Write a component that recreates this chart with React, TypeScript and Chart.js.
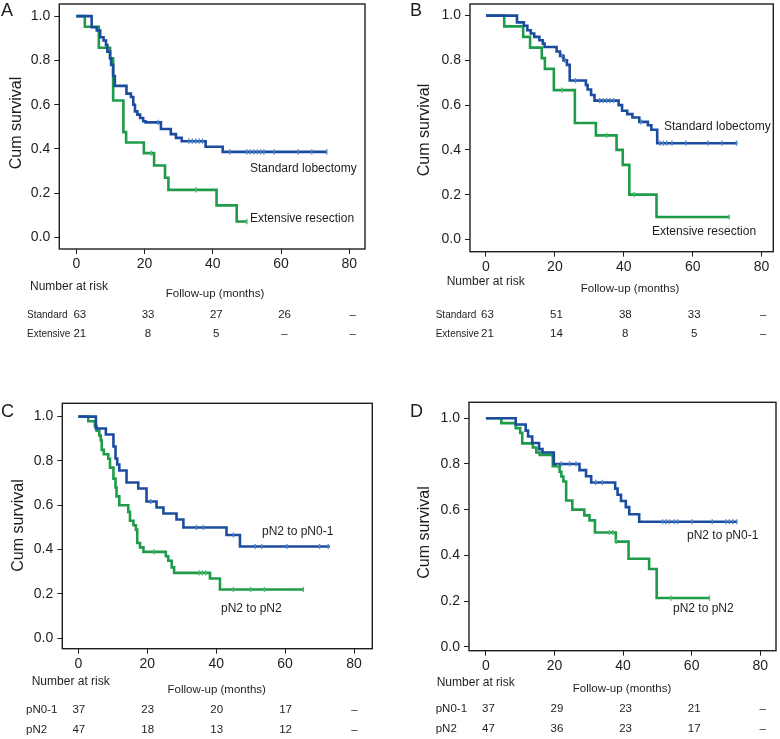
import React, { useEffect, useRef } from 'react';
import { Chart, registerables } from 'chart.js';

Chart.register(...registerables);

// ---------- shared axis data ----------
const xTicks = [0, 20, 40, 60, 80];
const yTicks = [0, 0.2, 0.4, 0.6, 0.8, 1.0];
const riskTimes = [0, 20, 40, 60, 80];

// ---------- Panel A ----------
const aStdTime = [0, 4.5, 6, 7, 8, 8.7, 9.1, 9.9, 10.2, 10.8, 11.3, 14.7, 16, 16.7, 17.2, 17.9, 18.7, 19.6, 20.3, 24.8, 27.7, 29.2, 30.9, 37.9, 42.9, 73.4];
const aStdSurv = [1, 0.95, 0.935, 0.905, 0.89, 0.87, 0.84, 0.81, 0.78, 0.73, 0.685, 0.65, 0.635, 0.6, 0.57, 0.555, 0.54, 0.525, 0.52, 0.49, 0.467, 0.45, 0.435, 0.41, 0.387, 0.387];
const aStdCensor = [24, 33, 34, 35, 36, 37, 45, 50, 51, 52, 53, 54, 55, 58, 65, 69, 73.4];
const aExtTime = [0, 2.5, 6.6, 9.9, 10.8, 13.8, 14.6, 19.8, 22.8, 26, 27, 41.1, 47, 50];
const aExtSurv = [1, 0.952, 0.857, 0.81, 0.619, 0.476, 0.429, 0.381, 0.325, 0.27, 0.215, 0.145, 0.072, 0.072];
const aExtCensor = [22, 35, 50];
const aRiskStandard = ['63', '33', '27', '26', '–'];
const aRiskExtensive = ['21', '8', '5', '–', '–'];

// ---------- Panel B ----------
const bStdTime = [0, 9, 11, 12, 13, 14, 15.5, 16.5, 17, 20.5, 21.5, 22.5, 23.5, 24.3, 29, 29.5, 30.5, 31.5, 38.5, 39.5, 41, 42.5, 44.5, 47, 48, 49.7, 73];
const bStdSurv = [1, 0.97, 0.955, 0.935, 0.92, 0.905, 0.89, 0.875, 0.86, 0.84, 0.82, 0.8, 0.78, 0.71, 0.69, 0.67, 0.645, 0.62, 0.6, 0.575, 0.56, 0.545, 0.525, 0.51, 0.49, 0.43, 0.43];
const bStdCensor = [22, 23, 26, 33, 34, 35, 36, 37, 45, 50.5, 51.5, 52.5, 54, 58, 64.5, 68.5, 72.7];
const bExtTime = [0, 5.3, 10.8, 12.8, 16.2, 17.1, 19.7, 25.8, 31.9, 37.9, 39.7, 41.6, 49.5, 70.6];
const bExtSurv = [1, 0.952, 0.905, 0.857, 0.81, 0.762, 0.667, 0.52, 0.465, 0.4, 0.333, 0.2, 0.1, 0.1];
const bExtCensor = [22, 35, 43, 70.6];
const bRiskStandard = ['63', '51', '38', '33', '–'];
const bRiskExtensive = ['21', '14', '8', '5', '–'];

// ---------- Panel C ----------
const cN01Time = [0, 5.1, 8.0, 10.2, 10.8, 11.3, 11.9, 14.0, 17.4, 19.8, 22.7, 24.7, 28.5, 30.5, 43.0, 46.9, 73.0];
const cN01Surv = [1, 0.946, 0.919, 0.865, 0.811, 0.784, 0.757, 0.703, 0.676, 0.617, 0.59, 0.563, 0.536, 0.5, 0.466, 0.414, 0.414];
const cN01Censor = [21, 34.3, 36.3, 45, 51.3, 53.2, 60.5, 70, 72.5];
const cN2Time = [0, 2.9, 4.8, 5.3, 6.1, 6.5, 6.8, 7.4, 8.7, 9.2, 10.2, 10.8, 11.1, 11.9, 14.5, 15, 16, 16.7, 17.1, 17.9, 18.9, 25.4, 26.1, 27.1, 27.8, 38.2, 41.1, 65.3];
const cN2Surv = [1, 0.979, 0.957, 0.936, 0.915, 0.894, 0.85, 0.83, 0.81, 0.77, 0.72, 0.68, 0.64, 0.6, 0.57, 0.53, 0.51, 0.49, 0.43, 0.41, 0.39, 0.37, 0.35, 0.32, 0.295, 0.27, 0.22, 0.22];
const cN2Censor = [22, 35, 36, 37, 45, 50, 54, 65.3];
const cRiskN01 = ['37', '23', '20', '17', '–'];
const cRiskN2 = ['47', '18', '13', '12', '–'];

// ---------- Panel D ----------
const dN01Time = [0, 8.7, 11.6, 12.3, 13.5, 15.5, 16.5, 19.8, 27.3, 29.2, 30.7, 37.7, 38.4, 39.4, 40.8, 41.8, 44.7, 73.2];
const dN01Surv = [1, 0.973, 0.946, 0.92, 0.892, 0.865, 0.85, 0.8, 0.773, 0.746, 0.719, 0.692, 0.665, 0.638, 0.611, 0.58, 0.547, 0.547];
const dN01Censor = [22, 24.4, 26.3, 32, 34, 51.5, 52.5, 53.5, 55, 56, 60, 66, 70, 71, 72, 73.2];
const dN2Time = [0, 4.5, 8.7, 10, 10.6, 13.7, 14.7, 15.7, 19.5, 21.5, 22, 22.6, 23.4, 25.2, 28.7, 30.2, 31.8, 37.9, 41.6, 47.6, 49.8, 65.2];
const dN2Surv = [1, 0.979, 0.957, 0.936, 0.89, 0.872, 0.85, 0.84, 0.79, 0.766, 0.745, 0.723, 0.64, 0.6, 0.575, 0.553, 0.5, 0.46, 0.385, 0.34, 0.213, 0.213];
const dN2Censor = [21, 36, 37, 38, 54, 65.2];
const dRiskN01 = ['37', '29', '23', '21', '–'];
const dRiskN2 = ['47', '36', '23', '17', '–'];

// ---------- styling ----------
const FONT = '"Liberation Sans", Arial, Helvetica, sans-serif';
const BLUE = '#1c4c9e';
const GREEN = '#1f9b4a';
const BLUE_MARK = '#4f8ad2';
const GREEN_MARK = '#4cbd70';
const INK = '#1e1e1e';
const Y_W = 45;
const X_H = 25;

type Curve = { time: number[]; surv: number[]; censor: number[] };
type Panel = {
  letter: string;
  left: number; top: number; width: number; height: number;
  frame: { l: number; t: number; r: number; b: number };
  xMin: number; xMax: number; yMin: number; yMax: number;
  blue: Curve; green: Curve;
  blueLabel: { text: string; x: number; y: number };
  greenLabel: { text: string; x: number; y: number };
  letterPos: { x: number; y: number };
  cumPos: { x: number; y: number };
  narPos: { x: number; y: number };
  followPos: { x: number; y: number };
  rowLabelX: number; rowLabelSize: number; riskOffset: number;
  rows: { label: string; values: string[]; y: number }[];
};

const panels: Panel[] = [
  {
    letter: 'A', left: 0, top: 0, width: 390, height: 345,
    frame: { l: 59.3, t: 1, r: 365, b: 249 },
    xMin: -4.98, xMax: 84.6, yMin: -0.052, yMax: 1.055,
    blue: { time: aStdTime, surv: aStdSurv, censor: aStdCensor },
    green: { time: aExtTime, surv: aExtSurv, censor: aExtCensor },
    blueLabel: { text: 'Standard lobectomy', x: 250, y: 169 },
    greenLabel: { text: 'Extensive resection', x: 250, y: 219 },
    letterPos: { x: 1, y: 11 }, cumPos: { x: 17, y: 123 },
    narPos: { x: 30, y: 287 }, followPos: { x: 215, y: 294 },
    rowLabelX: 27, rowLabelSize: 10, riskOffset: 3.5,
    rows: [
      { label: 'Standard', values: aRiskStandard, y: 315 },
      { label: 'Extensive', values: aRiskExtensive, y: 334 },
    ],
  },
  {
    letter: 'B', left: 390, top: 0, width: 390, height: 345,
    frame: { l: 80, t: 1, r: 383.3, b: 251.7 },
    xMin: -4.64, xMax: 83.4, yMin: -0.055, yMax: 1.052,
    blue: { time: bStdTime, surv: bStdSurv, censor: bStdCensor },
    green: { time: bExtTime, surv: bExtSurv, censor: bExtCensor },
    blueLabel: { text: 'Standard lobectomy', x: 274, y: 127 },
    greenLabel: { text: 'Extensive resection', x: 262, y: 232 },
    letterPos: { x: 20, y: 11 }, cumPos: { x: 34.5, y: 130 },
    narPos: { x: 56.7, y: 282 }, followPos: { x: 240, y: 289 },
    rowLabelX: 45.7, rowLabelSize: 10, riskOffset: 1.5,
    rows: [
      { label: 'Standard', values: bRiskStandard, y: 315 },
      { label: 'Extensive', values: bRiskExtensive, y: 334 },
    ],
  },
  {
    letter: 'C', left: 0, top: 380, width: 390, height: 359,
    frame: { l: 62.3, t: 23.3, r: 372.3, b: 268.7 },
    xMin: -4.64, xMax: 85.3, yMin: -0.047, yMax: 1.06,
    blue: { time: cN01Time, surv: cN01Surv, censor: cN01Censor },
    green: { time: cN2Time, surv: cN2Surv, censor: cN2Censor },
    blueLabel: { text: 'pN2 to pN0-1', x: 262, y: 152 },
    greenLabel: { text: 'pN2 to pN2', x: 221, y: 229 },
    letterPos: { x: 1, y: 32.5 }, cumPos: { x: 19, y: 145.5 },
    narPos: { x: 31.7, y: 302 }, followPos: { x: 216.7, y: 310 },
    rowLabelX: 26, rowLabelSize: 11.5, riskOffset: 0.5,
    rows: [
      { label: 'pN0-1', values: cRiskN01, y: 330 },
      { label: 'pN2', values: cRiskN2, y: 350 },
    ],
  },
  {
    letter: 'D', left: 390, top: 380, width: 390, height: 359,
    frame: { l: 79, t: 22.3, r: 387.7, b: 270.7 },
    xMin: -4.93, xMax: 84.6, yMin: -0.0175, yMax: 1.07,
    blue: { time: dN01Time, surv: dN01Surv, censor: dN01Censor },
    green: { time: dN2Time, surv: dN2Surv, censor: dN2Censor },
    blueLabel: { text: 'pN2 to pN0-1', x: 297, y: 156 },
    greenLabel: { text: 'pN2 to pN2', x: 283, y: 229 },
    letterPos: { x: 20, y: 32 }, cumPos: { x: 35, y: 152.5 },
    narPos: { x: 46.7, y: 303 }, followPos: { x: 232, y: 309 },
    rowLabelX: 45.7, rowLabelSize: 11.5, riskOffset: 2.5,
    rows: [
      { label: 'pN0-1', values: dRiskN01, y: 329 },
      { label: 'pN2', values: dRiskN2, y: 349 },
    ],
  },
];

function stepPoints(c: Curve) {
  return c.time.map((t, i) => ({ x: t, y: c.surv[i] }));
}

function survAt(c: Curve, t: number) {
  let s = c.surv[0];
  for (let i = 0; i < c.time.length; i++) {
    if (c.time[i] <= t + 1e-9) s = c.surv[i];
  }
  return s;
}

function censorPoints(c: Curve) {
  return c.censor.map((t) => ({ x: t, y: survAt(c, t) }));
}

function drawText(
  ctx: CanvasRenderingContext2D, s: string, x: number, y: number,
  size: number, align: CanvasTextAlign = 'left', rotate = false
) {
  ctx.save();
  ctx.font = `${size}px ${FONT}`;
  ctx.fillStyle = INK;
  ctx.textAlign = align;
  ctx.textBaseline = 'middle';
  if (rotate) {
    ctx.translate(x, y);
    ctx.rotate(-Math.PI / 2);
    ctx.fillText(s, 0, 0);
  } else {
    ctx.fillText(s, x, y);
  }
  ctx.restore();
}

function makeChart(canvas: HTMLCanvasElement, p: Panel) {
  const decor = {
    id: 'decor' + p.letter,
    afterDatasetsDraw(chart: any) {
      const { left, top, right, bottom } = chart.chartArea;
      const ctx = chart.ctx as CanvasRenderingContext2D;
      ctx.save();
      ctx.strokeStyle = INK;
      ctx.lineWidth = 1.4;
      ctx.strokeRect(left, top, right - left, bottom - top);
      ctx.restore();
    },
    afterDraw(chart: any) {
      const ctx = chart.ctx as CanvasRenderingContext2D;
      const xs = chart.scales.x;
      drawText(ctx, p.letter, p.letterPos.x, p.letterPos.y, 18);
      drawText(ctx, 'Cum survival', p.cumPos.x, p.cumPos.y, 16, 'center', true);
      drawText(ctx, p.blueLabel.text, p.blueLabel.x, p.blueLabel.y, 12);
      drawText(ctx, p.greenLabel.text, p.greenLabel.x, p.greenLabel.y, 12);
      drawText(ctx, 'Number at risk', p.narPos.x, p.narPos.y, 12);
      drawText(ctx, 'Follow-up (months)', p.followPos.x, p.followPos.y, 11.5, 'center');
      p.rows.forEach((row) => {
        drawText(ctx, row.label, p.rowLabelX, row.y, p.rowLabelSize);
        row.values.forEach((v, i) => {
          const px = xs.getPixelForValue(riskTimes[i]) + p.riskOffset;
          drawText(ctx, v, px, row.y, 11.5, 'center');
        });
      });
    },
  };

  const tickFont = { family: FONT, size: 14 };

  return new Chart(canvas, {
    type: 'scatter',
    data: {
      datasets: [
        {
          data: censorPoints(p.blue), showLine: false, pointStyle: 'line', rotation: 90,
          pointRadius: 2.6, pointHoverRadius: 2.6, pointBorderColor: BLUE_MARK,
          pointBackgroundColor: BLUE_MARK, pointBorderWidth: 1.4, borderColor: BLUE_MARK,
        },
        {
          data: censorPoints(p.green), showLine: false, pointStyle: 'line', rotation: 90,
          pointRadius: 2.6, pointHoverRadius: 2.6, pointBorderColor: GREEN_MARK,
          pointBackgroundColor: GREEN_MARK, pointBorderWidth: 1.4, borderColor: GREEN_MARK,
        },
        {
          data: stepPoints(p.blue), showLine: true, stepped: 'before', borderColor: BLUE,
          borderWidth: 2.6, pointRadius: 0, pointHoverRadius: 0, fill: false,
        },
        {
          data: stepPoints(p.green), showLine: true, stepped: 'before', borderColor: GREEN,
          borderWidth: 2.6, pointRadius: 0, pointHoverRadius: 0, fill: false,
        },
      ] as any,
    },
    options: {
      responsive: false,
      animation: false,
      events: [],
      layout: {
        padding: {
          left: p.frame.l - Y_W,
          top: p.frame.t,
          right: p.width - p.frame.r,
          bottom: p.height - p.frame.b - X_H,
        },
      },
      plugins: { legend: { display: false }, tooltip: { enabled: false } },
      scales: {
        x: {
          type: 'linear',
          min: p.xMin,
          max: p.xMax,
          afterBuildTicks: (s: any) => { s.ticks = xTicks.map((v) => ({ value: v })); },
          afterFit: (s: any) => {
            s.height = X_H; s.paddingLeft = 0; s.paddingRight = 0; s.paddingTop = 0; s.paddingBottom = 0;
          },
          grid: { drawOnChartArea: false, drawTicks: true, tickLength: 5, color: INK, lineWidth: 1 },
          border: { display: false },
          ticks: {
            font: tickFont, color: INK, padding: 2, maxRotation: 0, autoSkip: false,
            callback: (v: any) => String(v),
          },
        },
        y: {
          type: 'linear',
          min: p.yMin,
          max: p.yMax,
          afterBuildTicks: (s: any) => { s.ticks = yTicks.map((v) => ({ value: v })); },
          afterFit: (s: any) => {
            s.width = Y_W; s.paddingLeft = 0; s.paddingRight = 0; s.paddingTop = 0; s.paddingBottom = 0;
          },
          grid: { drawOnChartArea: false, drawTicks: true, tickLength: 5, color: INK, lineWidth: 1 },
          border: { display: false },
          ticks: {
            font: tickFont, color: INK, padding: 4, autoSkip: false,
            callback: (v: any) => Number(v).toFixed(1),
          },
        },
      },
    } as any,
    plugins: [decor],
  });
}

export default function App() {
  const refs = useRef<(HTMLCanvasElement | null)[]>([]);

  useEffect(() => {
    const charts = panels.map((p, i) => makeChart(refs.current[i] as HTMLCanvasElement, p));
    return () => charts.forEach((c) => c.destroy());
  }, []);

  return (
    <div style={{ position: 'absolute', left: 0, top: 0, width: 780, height: 739, background: '#fff' }}>
      {panels.map((p, i) => (
        <canvas
          key={p.letter}
          ref={(el) => { refs.current[i] = el; }}
          width={p.width}
          height={p.height}
          style={{ position: 'absolute', left: p.left, top: p.top, width: p.width, height: p.height }}
        />
      ))}
    </div>
  );
}
